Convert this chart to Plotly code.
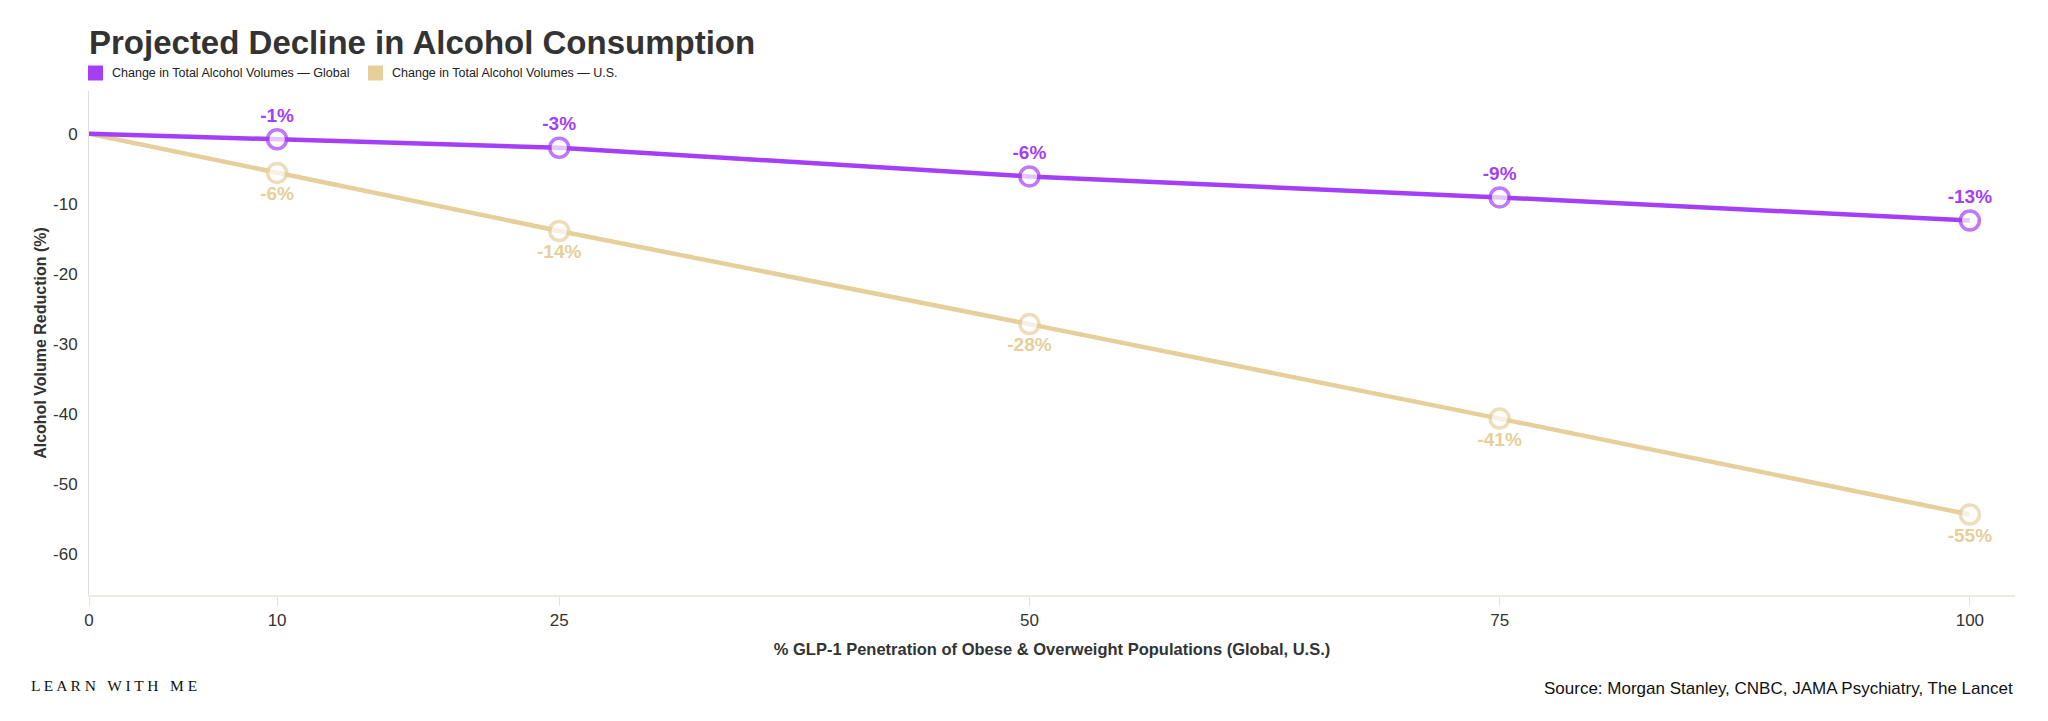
import plotly.graph_objects as go

# GLP-1 penetration (%) and projected change in alcohol volumes (%)
penetration = [0, 10, 25, 50, 75, 100]
global_change = [0, -0.8, -2.0, -6.1, -9.1, -12.4]
us_change = [0, -5.6, -13.9, -27.2, -40.7, -54.4]
global_labels = ["", "-1%", "-3%", "-6%", "-9%", "-13%"]
us_labels = ["", "-6%", "-14%", "-28%", "-41%", "-55%"]
x_ticks = [0, 10, 25, 50, 75, 100]
y_ticks = [0, -10, -20, -30, -40, -50, -60]
y_tick_text = ["0", "-10", "-20", "-30", "-40", "-50", "-60"]
series_names = ["Change in Total Alcohol Volumes — Global", "Change in Total Alcohol Volumes — U.S."]

PURPLE = "#a53ff7"
GOLD = "#e6cf9b"
FONT = "Liberation Sans, Arial, sans-serif"

# page body adds an 8px margin, so positions measured on the screenshot are shifted back
OFF = 8
W, H = 2048, 721
L, T = 89 - OFF, 91 - OFF
R, B = W - (2015 - OFF), H - (595 - OFF)
plot_w, plot_h = W - L - R, H - T - B


def px_to_paper_x(px):
    return (px - OFF - L) / plot_w


def px_to_paper_y(py):
    return (H - B - (py - OFF)) / plot_h


marker_sizes = [0] + [19] * (len(penetration) - 1)

fig = go.Figure()

fig.add_trace(go.Scatter(
    x=penetration, y=us_change, mode="lines+markers+text", name=series_names[1],
    line=dict(color=GOLD, width=4.5),
    marker=dict(size=marker_sizes, color="white", line=dict(color=GOLD, width=3.5)),
    text=us_labels, textposition="bottom center",
    textfont=dict(color=GOLD, size=19, family=FONT, weight="bold"),
    showlegend=False, hoverinfo="skip",
))
fig.add_trace(go.Scatter(
    x=penetration, y=global_change, mode="lines+markers+text", name=series_names[0],
    line=dict(color=PURPLE, width=4.5),
    marker=dict(size=marker_sizes, color="white", line=dict(color=PURPLE, width=3.5)),
    text=global_labels, textposition="top center",
    textfont=dict(color=PURPLE, size=19, family=FONT, weight="bold"),
    showlegend=False, hoverinfo="skip",
))

# legend drawn by hand: square swatch + label
legend_shapes, legend_notes = [], []
for name, color, sq_left in zip(series_names, [PURPLE, GOLD], [88, 368]):
    legend_shapes.append(dict(
        type="rect", xref="paper", yref="paper",
        x0=px_to_paper_x(sq_left), x1=px_to_paper_x(sq_left + 15),
        y0=px_to_paper_y(80.5), y1=px_to_paper_y(65.5),
        fillcolor=color, line=dict(width=0),
    ))
    legend_notes.append(dict(
        text=name, xref="paper", yref="paper",
        x=px_to_paper_x(sq_left + 22), xanchor="left",
        y=px_to_paper_y(73), yanchor="middle", showarrow=False,
        font=dict(size=12.5, color="#222222", family=FONT),
    ))

fig.update_layout(
    width=W, height=H,
    paper_bgcolor="white", plot_bgcolor="white",
    margin=dict(l=L, r=R, t=T, b=B),
    font=dict(family=FONT, color="#333333"),
    showlegend=False,
    title=dict(
        text="<b>Projected Decline in Alcohol Consumption</b>",
        x=L / W, xanchor="left", xref="container",
        y=1 - (42 - OFF) / H, yanchor="middle", yref="container",
        font=dict(size=33, color="#333333", family=FONT),
    ),
    xaxis=dict(
        range=[0, 102.4], tickmode="array", tickvals=x_ticks,
        showgrid=False, zeroline=False,
        showline=True, linecolor="#efe9e6", linewidth=2,
        ticks="outside", ticklen=9, tickcolor="#e3e3e3", tickwidth=1,
        tickfont=dict(size=17, color="#333333"),
        title=dict(
            text="<b>% GLP-1 Penetration of Obese & Overweight Populations (Global, U.S.)</b>",
            font=dict(size=16.5, color="#333333"), standoff=14,
        ),
    ),
    yaxis=dict(
        range=[-65.9, 6.1], tickmode="array", tickvals=y_ticks, ticktext=y_tick_text,
        showgrid=False, zeroline=False,
        showline=True, linecolor="#e3ddd8", linewidth=1,
        ticks="", ticklabelstandoff=7, tickfont=dict(size=17, color="#333333"),
        title=dict(
            text="<b>Alcohol Volume Reduction (%)</b>",
            font=dict(size=16, color="#333333"), standoff=2,
        ),
    ),
    shapes=legend_shapes,
    annotations=legend_notes + [
        dict(
            text="Source: Morgan Stanley, CNBC, JAMA Psychiatry, The Lancet",
            xref="paper", yref="paper", x=1, xanchor="right",
            y=px_to_paper_y(688), yanchor="middle", showarrow=False,
            font=dict(size=17, color="#111111", family=FONT),
        ),
        dict(
            text="L E A R N&nbsp;&nbsp; W I T H&nbsp;&nbsp; M E",
            xref="paper", yref="paper", x=px_to_paper_x(29), xanchor="left",
            y=px_to_paper_y(685), yanchor="middle", showarrow=False,
            font=dict(size=15.5, color="#111111", family="Liberation Serif, DejaVu Serif, serif"),
        ),
    ],
)

fig.write_html("out.html")
